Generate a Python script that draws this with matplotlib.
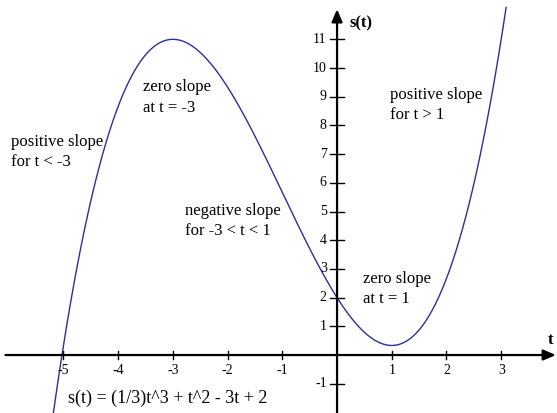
import numpy as np
import matplotlib.pyplot as plt

# s(t) = (1/3)t^3 + t^2 - 3t + 2, highest power first
coeffs = [1 / 3, 1, -3, 2]
t_range = (-5.2, 3.09)

x_ticks = [-5, -4, -3, -2, -1, 1, 2, 3]
y_ticks = [-1, 1, 2, 3, 4, 5, 6, 7, 8, 9, 10, 11]

notes = [
    ("positive slope\nfor t < -3", -5.95, 7.07),
    ("zero slope\nat t = -3", -3.55, 8.97),
    ("negative slope\nfor -3 < t < 1", -2.78, 4.67),
    ("positive slope\nfor t > 1", 0.97, 8.71),
    ("zero slope\nat t = 1", 0.475, 2.30),
]
formula = "s(t) = (1/3)t^3 + t^2 - 3t + 2"

plt.rcParams['font.family'] = ['Liberation Serif', 'DejaVu Serif']

fig = plt.figure(figsize=(5.57, 4.13), dpi=100)
ax = fig.add_axes([0, 0, 1, 1])
ax.set_xlim(-6.16, 4.02)
ax.set_ylim(-2.02, 12.37)
ax.axis('off')

# axes with arrow heads
ax.annotate("", xy=(4.0, 0), xytext=(-6.06, 0),
            arrowprops=dict(arrowstyle="-|>,head_length=0.75,head_width=0.32",
                            color="black", lw=1.6, shrinkA=0, shrinkB=0))
ax.annotate("", xy=(0, 12.05), xytext=(0, -2.05),
            arrowprops=dict(arrowstyle="-|>,head_length=0.75,head_width=0.32",
                            color="black", lw=1.6, shrinkA=0, shrinkB=0))

# tick marks and labels
for tx in x_ticks:
    ax.plot([tx, tx], [-0.15, 0.15], color="black", lw=1)
    ax.text(tx, -0.55, str(tx), ha="center", va="center", fontsize=10)
for ty in y_ticks:
    ax.plot([-0.12, 0.12], [ty, ty], color="black", lw=1)
    ax.text(-0.19, ty, str(ty), ha="right", va="center", fontsize=10)

ax.text(0.23, 11.55, "s(t)", fontsize=12, fontweight="bold", va="center")
ax.text(3.85, 0.52, "t", fontsize=12, fontweight="bold", va="center")

t = np.linspace(t_range[0], t_range[1], 400)
ax.plot(t, np.polyval(coeffs, t), color="#2e2e9c", lw=1)

for label, tx, ty in notes:
    ax.text(tx, ty, label, fontsize=12, ha="left", va="center",
            linespacing=1.35)
ax.text(-4.92, -1.5, formula, fontsize=13, ha="left", va="center")

fig.savefig("out.png", dpi=100)
